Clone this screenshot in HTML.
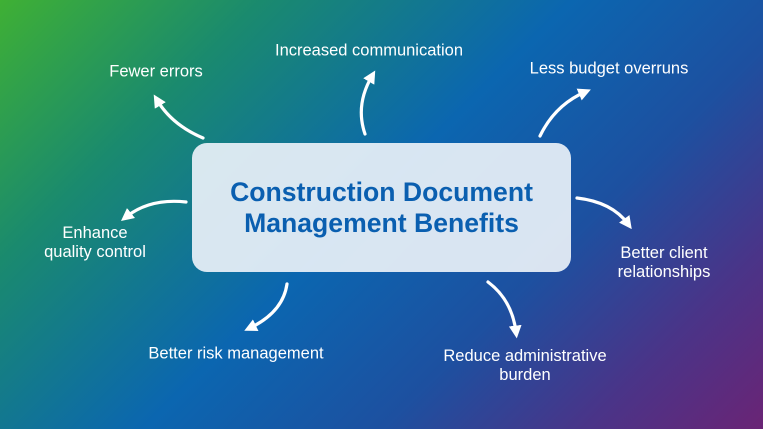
<!DOCTYPE html><html><head><style>
body{margin:0}
#c{position:relative;width:763px;height:429px;overflow:hidden;font-family:"Liberation Sans",sans-serif;
background:linear-gradient(135deg,#3fb034 0%,#1a8a6e 22%,#0b66b0 48%,#1d50a0 68%,#4a3488 85%,#6a2475 100%);}
.l{position:absolute;color:#fff;font-size:16.5px;text-align:center;line-height:19px;white-space:nowrap;transform:translate(-50%,-50%)}
#b{position:absolute;left:192px;top:143px;width:379px;height:129px;border-radius:15px;background:rgba(232,240,248,0.93);
display:flex;align-items:center;justify-content:center;text-align:center;color:#0a5fb0;font-weight:bold;font-size:26.6px;line-height:31px}
</style></head><body><div id="c">
<svg width="763" height="429" style="position:absolute;left:0;top:0">
<defs><marker id="a" markerWidth="4" markerHeight="4" refX="2" refY="2" orient="auto" markerUnits="strokeWidth"><path d="M0,0 L4,2 L0,4 z" fill="#fff"/></marker></defs>
<g fill="none" stroke="#fff" stroke-width="3.2" stroke-linecap="round" marker-end="url(#a)">
<path d="M203,138 Q172,125 157,100"/>
<path d="M365,134 Q355,105 372,76"/>
<path d="M540,136 Q555,105 585,92"/>
<path d="M186,202 Q150,198 126,217"/>
<path d="M577,198 Q612,202 628,224"/>
<path d="M287,284 Q283,312 250,328"/>
<path d="M488,282 Q512,300 516,332"/>
</g></svg>
<div class="l" style="left:156px;top:72px">Fewer errors</div>
<div class="l" style="left:369px;top:51px">Increased communication</div>
<div class="l" style="left:609px;top:69px">Less budget overruns</div>
<div class="l" style="left:95px;top:243px">Enhance<br>quality control</div>
<div class="l" style="left:664px;top:263px">Better client<br>relationships</div>
<div class="l" style="left:236px;top:354px">Better risk management</div>
<div class="l" style="left:525px;top:366px">Reduce administrative<br>burden</div>
<div id="b">Construction Document<br>Management Benefits</div>
</div></body></html>
